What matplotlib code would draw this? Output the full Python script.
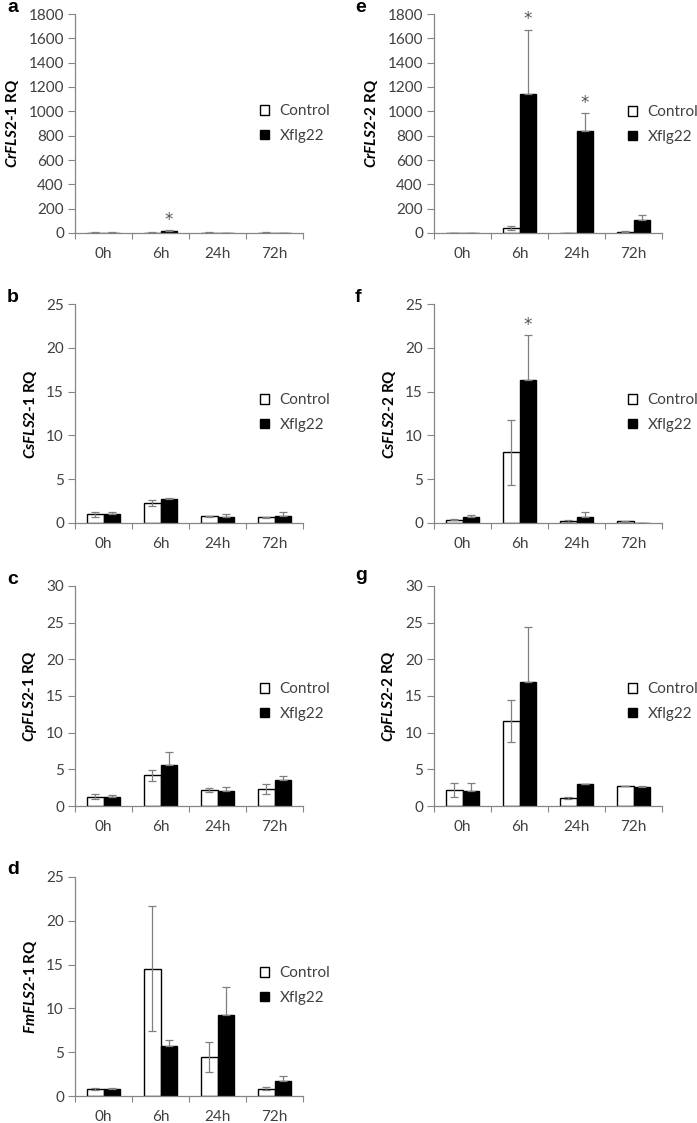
import numpy as np
import matplotlib.pyplot as plt

plt.rcParams['font.family'] = ['Lato', 'DejaVu Sans']
plt.rcParams['mathtext.fontset'] = 'custom'
plt.rcParams['mathtext.it'] = 'Lato:italic:bold'
plt.rcParams['mathtext.rm'] = 'Lato:bold'

hours = ["0h", "6h", "24h", "72h"]
series = ["Control", "Xflg22"]

# values (RQ, mean and error)
a_ctrl = [4, 4, 4, 4]
a_ctrl_err = [0.5, 1, 0.5, 0.5]
a_xflg = [4, 15, 0.5, 0]
a_xflg_err = [0.5, 10, 0.2, 0]

b_ctrl = [1.0, 2.28, 0.76, 0.65]
b_ctrl_err = [0.3, 0.3, 0.05, 0.05]
b_xflg = [1.0, 2.78, 0.68, 0.76]
b_xflg_err = [0.25, 0.1, 0.35, 0.55]

c_ctrl = [1.27, 4.18, 2.18, 2.32]
c_ctrl_err = [0.3, 0.75, 0.25, 0.68]
c_xflg = [1.18, 5.55, 2.09, 3.5]
c_xflg_err = [0.32, 1.75, 0.55, 0.6]

d_ctrl = [0.84, 14.55, 4.41, 0.84]
d_ctrl_err = [0.1, 7.1, 1.7, 0.19]
d_xflg = [0.76, 5.7, 9.27, 1.75]
d_xflg_err = [0.19, 0.65, 3.23, 0.53]

e_ctrl = [3, 41, 3, 12]
e_ctrl_err = [1, 15, 1, 4]
e_xflg = [0, 1143, 836, 110]
e_xflg_err = [0, 528, 150, 41]

f_ctrl = [0.38, 8.07, 0.25, 0.19]
f_ctrl_err = [0.02, 3.7, 0.1, 0.05]
f_xflg = [0.68, 16.36, 0.68, 0.05]
f_xflg_err = [0.27, 5.1, 0.57, 0.0]

g_ctrl = [2.18, 11.6, 1.09, 2.77]
g_ctrl_err = [0.95, 2.9, 0.1, 0.0]
g_xflg = [2.09, 16.95, 2.95, 2.64]
g_xflg_err = [1.0, 7.4, 0.0, 0.15]

# significant differences (*), index of time point
a_sig = [1]
e_sig = [1, 2]
f_sig = [1]

panels = [
    ("a", "CrFLS2", "1", 1800, 200, a_ctrl, a_ctrl_err, a_xflg, a_xflg_err, a_sig),
    ("b", "CsFLS2", "1", 25, 5, b_ctrl, b_ctrl_err, b_xflg, b_xflg_err, []),
    ("c", "CpFLS2", "1", 30, 5, c_ctrl, c_ctrl_err, c_xflg, c_xflg_err, []),
    ("d", "FmFLS2", "1", 25, 5, d_ctrl, d_ctrl_err, d_xflg, d_xflg_err, []),
    ("e", "CrFLS2", "2", 1800, 200, e_ctrl, e_ctrl_err, e_xflg, e_xflg_err, e_sig),
    ("f", "CsFLS2", "2", 25, 5, f_ctrl, f_ctrl_err, f_xflg, f_xflg_err, f_sig),
    ("g", "CpFLS2", "2", 30, 5, g_ctrl, g_ctrl_err, g_xflg, g_xflg_err, []),
]

W, H = 697, 1123
# axes boxes in pixels
col_x = [75, 434]
row_y = [(14, 233), (304, 523), (586, 806), (877, 1096)]
layout = [(0, 0), (0, 1), (0, 2), (0, 3), (1, 0), (1, 1), (1, 2)]
legend_y = [0.5, 0.505, 0.475, 0.505, 0.495, 0.505, 0.475]
letter_y = [8, 297, 580, 870, 8, 297, 575]

spine_col = "#868686"
text_col = "#404040"
err_col = "#7f7f7f"

fig = plt.figure(figsize=(W / 100, H / 100), dpi=100)

x = np.arange(len(hours))
bw = 0.29

for i, (letter, gene, num, ymax, ystep, ctrl, ctrl_err, xflg, xflg_err, sig) in enumerate(panels):
    col, row = layout[i]
    x0 = col_x[col]
    top, bot = row_y[row]
    ax = fig.add_axes([x0 / W, 1 - bot / H, 228 / W, (bot - top) / H])

    ax.bar(x - bw / 2, ctrl, bw, color="white", edgecolor="black", linewidth=1.0,
           label=series[0], zorder=2)
    ax.bar(x + bw / 2, xflg, bw, color="black", edgecolor="black", linewidth=1.0,
           label=series[1], zorder=2)
    ax.errorbar(x - bw / 2, ctrl, yerr=ctrl_err, fmt="none", ecolor=err_col,
                elinewidth=0.9, capsize=3, capthick=0.9, zorder=3)
    ax.errorbar(x + bw / 2, xflg, yerr=[np.zeros(len(xflg)), xflg_err], fmt="none",
                ecolor=err_col, elinewidth=0.9, capsize=3, capthick=0.9, zorder=3)

    for k in sig:
        ax.annotate("*", (x[k] + bw / 2, xflg[k] + xflg_err[k]), xytext=(0, 1),
                    textcoords="offset points", ha="center", va="bottom",
                    fontsize=12, color="#505050", family="DejaVu Sans")

    ax.set_xlim(-0.5, 3.5)
    ax.set_ylim(0, ymax)
    ax.set_yticks(np.arange(0, ymax + 1, ystep))
    ax.set_xticks(x)
    ax.set_xticklabels(hours)
    ax.set_xticks(np.arange(-0.5, 4, 1), minor=True)
    ax.tick_params(axis="x", which="major", length=0, pad=10, labelsize=11,
                   labelcolor=text_col)
    ax.tick_params(axis="x", which="minor", length=4, width=0.8, color=spine_col,
                   direction="out")
    ax.tick_params(axis="y", length=5, width=0.8, color=spine_col, labelsize=11,
                   labelcolor=text_col, pad=3)
    for s in ["top", "right"]:
        ax.spines[s].set_visible(False)
    for s in ["left", "bottom"]:
        ax.spines[s].set_color(spine_col)
        ax.spines[s].set_linewidth(0.9)

    ax.set_ylabel(r"$\it{" + gene + "}$-$\it{" + num + "}$ RQ", fontsize=11,
                  fontweight="bold", color="black", labelpad=5)

    lx = 0.81 if col == 0 else 0.85
    ax.legend(loc="center left", bbox_to_anchor=(lx, legend_y[i]), frameon=False,
              borderpad=0, borderaxespad=0, handlelength=0.6, handleheight=0.6,
              handletextpad=0.7, labelspacing=0.7, fontsize=11,
              labelcolor=text_col)

    fig.text((7 if col == 0 else 355) / W, 1 - letter_y[i] / H, letter,
             fontsize=14, fontweight="bold", family="Liberation Sans",
             ha="left", va="center")

fig.savefig("out.png", dpi=100)
